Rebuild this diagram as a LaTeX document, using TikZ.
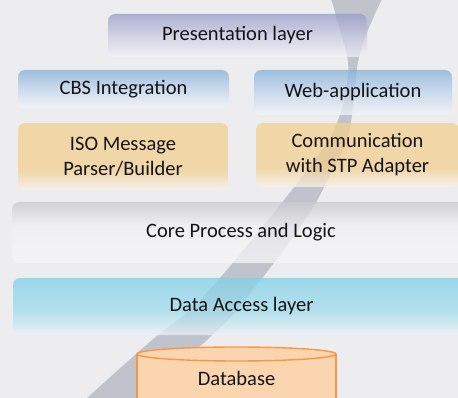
\documentclass[tikz,border=0pt]{standalone}
\usepackage{fontspec}
\setmainfont{Carlito}
\definecolor{bg}{RGB}{237,237,240}
\definecolor{txt}{RGB}{20,20,20}
\definecolor{presT}{RGB}{150,156,198}
\definecolor{presM}{RGB}{200,201,226}
\definecolor{presB}{RGB}{242,242,247}
\definecolor{blueT}{RGB}{128,176,216}
\definecolor{blueM}{RGB}{192,212,236}
\definecolor{blueB}{RGB}{243,245,249}
\definecolor{orT}{RGB}{243,206,142}
\definecolor{orB}{RGB}{250,243,233}
\definecolor{coreT}{RGB}{202,202,206}
\definecolor{coreM}{RGB}{241,241,243}
\definecolor{coreB}{RGB}{246,246,247}
\definecolor{daT}{RGB}{126,208,232}
\definecolor{daM}{RGB}{162,220,237}
\definecolor{daB}{RGB}{239,242,245}
\definecolor{dbfill}{RGB}{251,213,176}
\definecolor{dbline}{RGB}{247,150,70}
\definecolor{swooshc}{RGB}{110,116,136}
\pgfdeclareverticalshading{presshade}{100bp}{color(0bp)=(presB); color(25bp)=(presB); color(50bp)=(presM); color(75bp)=(presT); color(100bp)=(presT)}
\pgfdeclareverticalshading{blueshade}{100bp}{color(0bp)=(blueB); color(25bp)=(blueB); color(50bp)=(blueM); color(75bp)=(blueT); color(100bp)=(blueT)}
\pgfdeclareverticalshading{orshade}{100bp}{color(0bp)=(orB); color(25bp)=(orB); color(40bp)=(orT); color(75bp)=(orT); color(100bp)=(orT)}
\pgfdeclareverticalshading{coreshade}{100bp}{color(0bp)=(coreB); color(25bp)=(coreB); color(55bp)=(coreM); color(75bp)=(coreT); color(100bp)=(coreT)}
\pgfdeclareverticalshading{dashade}{100bp}{color(0bp)=(daB); color(25bp)=(daB); color(45bp)=(daM); color(75bp)=(daT); color(100bp)=(daT)}
\tikzset{
  layerbox/.style={rounded corners=7pt, inner sep=0pt, text=txt, align=center,
    fill opacity=0.74, text opacity=1, font=\fontsize{20.5}{25}\selectfont},
  swoosh/.style={fill=swooshc, fill opacity=0.34, draw=none}
}
\begin{document}
\begin{tikzpicture}[x=1pt,y=-1pt]
\useasboundingbox (0,0) rectangle (458,398);
\clip (0,0) rectangle (458,398);
\fill[bg] (0,0) rectangle (458,398);
% swoosh
\fill[swoosh] plot[smooth, tension=0.6] coordinates {(330,-5) (340,30) (348,62) (346,90) (338,120) (322,150) (268,220) (200,300) (152,340) (87,398) (75,410)}
  -- plot[smooth, tension=0.6] coordinates {(128,410) (140,398) (207,340) (245,300) (305,220) (330,175) (347,140) (354,100) (358,62) (368,30) (384,-5)} -- cycle;
% layers
\node[layerbox, shading=presshade, minimum width=259pt, minimum height=43pt] (pres) at (237.5,35.5) {Presentation layer};
\node[layerbox, shading=blueshade, minimum width=211pt, minimum height=38pt] (cbs) at (123.5,89) {CBS Integration};
\node[layerbox, shading=blueshade, minimum width=198pt, minimum height=45pt] (web) at (353,92.5) {Web-application};
\node[layerbox, shading=orshade, minimum width=210pt, minimum height=67pt] (iso) at (123,156.5) {ISO Message\\Parser/Builder};
\node[layerbox, shading=orshade, minimum width=203pt, minimum height=64pt] (comm) at (357.5,155) {Communication\\with STP Adapter};
\node[layerbox, shading=coreshade, minimum width=458pt, minimum height=61pt] (core) at (241,232.5) {Core Process and Logic};
\node[layerbox, shading=dashade, minimum width=457pt, minimum height=57pt] (da) at (241.5,306.5) {Data Access layer};
% database
\filldraw[fill=dbfill, draw=dbline, line width=1.4pt] (137,354) -- (137,410) -- (336,410) -- (336,354);
\filldraw[fill=dbfill, draw=dbline, line width=1.4pt] (236.5,354) ellipse [x radius=99.5, y radius=7];
\node[text=txt, font=\fontsize{20.5}{25}\selectfont, inner sep=0pt] (db) at (236.5,378) {Database};
\end{tikzpicture}
\end{document}
